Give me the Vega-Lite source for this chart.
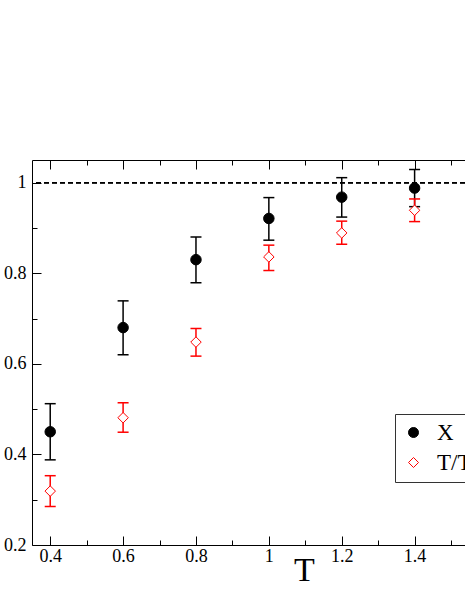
{
  "$schema": "https://vega.github.io/schema/vega-lite/v6.json",
  "width": 433,
  "height": 385,
  "autosize": {"type": "none"},
  "padding": {"left": 32, "top": 160, "right": 0, "bottom": 56},
  "background": "white",
  "config": {
    "view": {"stroke": null},
    "font": "Liberation Serif",
    "axis": {
      "domainColor": "black",
      "domainWidth": 1,
      "tickColor": "black",
      "tickWidth": 1,
      "labelFont": "Liberation Serif",
      "labelFontSize": 18,
      "labelColor": "black",
      "grid": false
    },
    "legend": {
      "strokeColor": "#333",
      "fillColor": "white",
      "padding": 7,
      "labelFont": "Liberation Serif",
      "labelFontSize": 23,
      "labelColor": "black",
      "symbolOffset": 0,
      "labelOffset": 12,
      "rowPadding": 6,
      "symbolStrokeWidth": 1
    }
  },
  "data": {
    "values": [
      {"T": 0.4, "series": "X", "val": 0.45, "lo": 0.388, "hi": 0.512},
      {"T": 0.6, "series": "X", "val": 0.68, "lo": 0.62, "hi": 0.739},
      {"T": 0.8, "series": "X", "val": 0.83, "lo": 0.779, "hi": 0.88},
      {"T": 1.0, "series": "X", "val": 0.921, "lo": 0.873, "hi": 0.967},
      {"T": 1.2, "series": "X", "val": 0.968, "lo": 0.924, "hi": 1.011},
      {"T": 1.4, "series": "X", "val": 0.988, "lo": 0.947, "hi": 1.029},
      {"T": 0.4, "series": "T/Tc", "val": 0.319, "lo": 0.285, "hi": 0.353},
      {"T": 0.6, "series": "T/Tc", "val": 0.481, "lo": 0.449, "hi": 0.514},
      {"T": 0.8, "series": "T/Tc", "val": 0.648, "lo": 0.617, "hi": 0.678},
      {"T": 1.0, "series": "T/Tc", "val": 0.836, "lo": 0.806, "hi": 0.862},
      {"T": 1.2, "series": "T/Tc", "val": 0.889, "lo": 0.864, "hi": 0.915},
      {"T": 1.4, "series": "T/Tc", "val": 0.939, "lo": 0.914, "hi": 0.964}
    ]
  },
  "layer": [
    {
      "mark": {"type": "rule", "strokeDash": [5, 3], "color": "black", "strokeWidth": 1},
      "encoding": {"y": {"datum": 1, "type": "quantitative"}}
    },
    {
      "mark": {"type": "rule", "strokeWidth": 1.5},
      "encoding": {
        "x": {
          "field": "T", "type": "quantitative",
          "scale": {"domain": [0.35, 1.5383], "nice": false, "zero": false},
          "axis": {
            "orient": "bottom",
            "values": [0.4, 0.5, 0.6, 0.7, 0.8, 0.9, 1.0, 1.1, 1.2, 1.3, 1.4, 1.5],
            "labelExpr": "round(datum.value*10) % 2 == 0 ? format(datum.value, '~g') : ''",
            "tickSize": {"condition": {"test": "round(datum.value*10) % 2 == 0", "value": -9}, "value": -5},
            "labelPadding": 11,
            "title": "T",
            "titleFont": "Liberation Serif",
            "titleFontSize": 34,
            "titleFontWeight": "normal",
            "titleColor": "black",
            "titleX": 272,
            "titleY": 35,
            "titleBaseline": "alphabetic"
          }
        },
        "y": {
          "field": "lo", "type": "quantitative",
          "scale": {"domain": [0.2, 1.05], "nice": false, "zero": false},
          "axis": {
            "values": [0.2, 0.3, 0.4, 0.5, 0.6, 0.7, 0.8, 0.9, 1.0],
            "labelExpr": "round(datum.value*10) % 2 == 0 ? format(datum.value, '~g') : ''",
            "tickSize": {"condition": {"test": "round(datum.value*10) % 2 == 0", "value": -9}, "value": -5},
            "labelPadding": 15,
            "title": null
          }
        },
        "y2": {"field": "hi"},
        "stroke": {
          "field": "series", "type": "nominal",
          "scale": {"domain": ["X", "T/Tc"], "range": ["black", "#ff0000"]},
          "legend": {"title": null, "orient": "none", "legendX": 363, "legendY": 254}
        }
      }
    },
    {
      "mark": {"type": "point", "shape": "stroke", "size": 121, "strokeWidth": 1.5, "opacity": 1},
      "encoding": {
        "x": {"field": "T", "type": "quantitative", "axis": null},
        "y": {"field": "lo", "type": "quantitative"},
        "stroke": {"field": "series", "type": "nominal", "legend": {"title": null, "orient": "none", "legendX": 363, "legendY": 254}}
      }
    },
    {
      "mark": {"type": "point", "shape": "stroke", "size": 121, "strokeWidth": 1.5, "opacity": 1},
      "encoding": {
        "x": {
          "field": "T", "type": "quantitative",
          "axis": {
            "orient": "top",
            "values": [0.4, 0.5, 0.6, 0.7, 0.8, 0.9, 1.0, 1.1, 1.2, 1.3, 1.4, 1.5],
            "labels": false,
            "tickSize": {"condition": {"test": "round(datum.value*10) % 2 == 0", "value": -9}, "value": -5},
            "title": null
          }
        },
        "y": {"field": "hi", "type": "quantitative"},
        "stroke": {"field": "series", "type": "nominal", "legend": {"title": null, "orient": "none", "legendX": 363, "legendY": 254}}
      }
    },
    {
      "mark": {"type": "point", "size": 110, "strokeWidth": 1, "opacity": 1},
      "encoding": {
        "x": {"field": "T", "type": "quantitative", "axis": null},
        "y": {"field": "val", "type": "quantitative"},
        "shape": {
          "field": "series", "type": "nominal",
          "scale": {"domain": ["X", "T/Tc"], "range": ["circle", "diamond"]},
          "legend": {"title": null, "orient": "none", "legendX": 363, "legendY": 254}
        },
        "fill": {
          "field": "series", "type": "nominal",
          "scale": {"domain": ["X", "T/Tc"], "range": ["black", "white"]},
          "legend": {"title": null, "orient": "none", "legendX": 363, "legendY": 254}
        },
        "stroke": {
          "field": "series", "type": "nominal",
          "legend": {"title": null, "orient": "none", "legendX": 363, "legendY": 254}
        }
      }
    }
  ],
  "resolve": {"axis": {"x": "independent"}}
}
